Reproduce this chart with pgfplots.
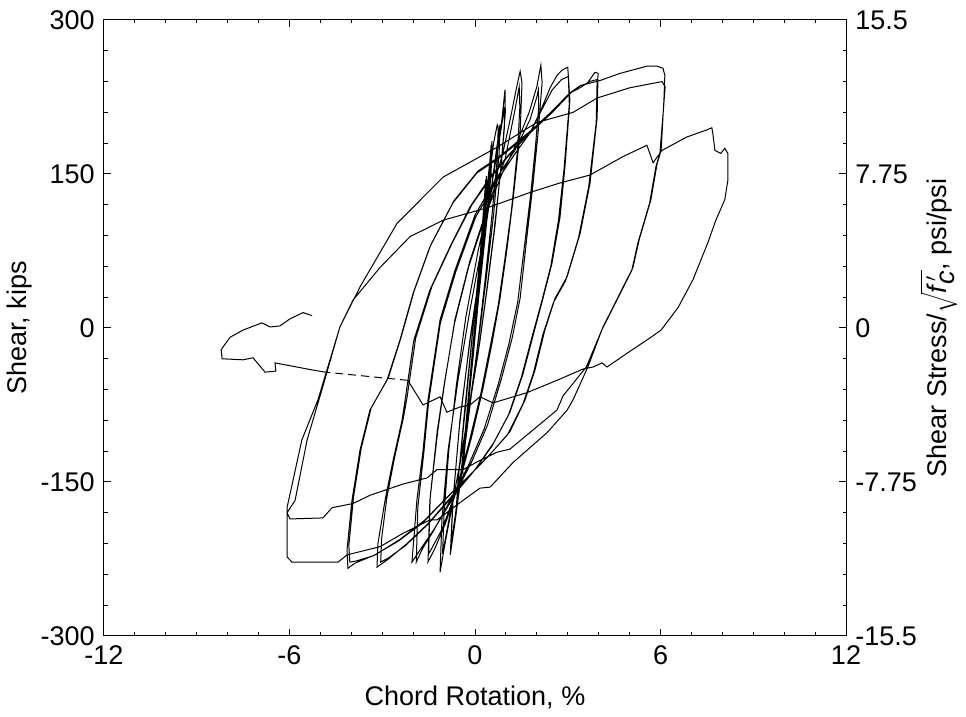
\documentclass[border=0pt]{standalone}
\usepackage{fontspec}
\setmainfont{Liberation Sans}
\usepackage{pgfplots}
\pgfplotsset{compat=1.18}
\begin{document}
\fontsize{13.5}{16}\selectfont
\begin{tikzpicture}
\pgfplotsset{
  common/.style={
    scale only axis, width=371pt, height=308pt,
    xmin=-12, xmax=12,
    tick align=inside,
    major tick length=3.5pt, minor tick length=1.75pt,
    axis line style={line width=0.5pt},
    every tick/.style={black, line width=0.5pt},
    tick label style={font=\fontsize{13.5}{16}\selectfont},
    label style={font=\fontsize{13.5}{16}\selectfont},
  }
}
\begin{axis}[common,
  ymin=-300, ymax=300,
  xtick={-12,-6,0,6,12}, xticklabels={-12,-6,0,6,12},
  ytick={-300,-150,0,150,300}, yticklabels={-300,-150,0,150,300},
  minor x tick num=5, minor y tick num=4,
  xtick pos=both, ytick pos=left,
  every axis x label/.style={at={(axis description cs:0.5,0)}, yshift=-30.5pt, anchor=center},
  every axis y label/.style={at={(axis description cs:0,0.5)}, xshift=-42pt, rotate=90, anchor=center},
  xlabel={Chord Rotation, \%},
  ylabel={Shear, kips},
]
\coordinate (SW) at (rel axis cs:0,0);
\coordinate (NE) at (rel axis cs:1,1);
\addplot[black, line width=0.5pt] coordinates {
(0,0) (0.1,40) (0.2,85) (0.3,125) (0.35,145)
(0.33,120) (0.2,70) (0.05,20) (-0.1,-35) (-0.25,-90) (-0.38,-135) (-0.4,-142)
(-0.35,-115) (-0.2,-65) (-0.05,-15) (0.1,35) (0.25,95) (0.36,140) (0.37,148)
(0.33,118) (0.18,65) (0.02,12) (-0.15,-45) (-0.3,-100) (-0.4,-140)
(-0.35,-112) (-0.15,-45) (0.05,18) (0.25,85) (0.42,140) (0.5,170) (0.52,178)
(0.5,150) (0.35,100) (0.15,40) (-0.05,-25) (-0.25,-85) (-0.45,-140) (-0.58,-172) (-0.6,-178)
(-0.52,-140) (-0.3,-75) (-0.08,-5) (0.15,65) (0.35,125) (0.5,168) (0.55,182)
(0.52,150) (0.35,95) (0.12,30) (-0.1,-40) (-0.3,-100) (-0.5,-155) (-0.62,-182)
(-0.55,-150) (-0.35,-85) (-0.1,-10) (0.15,60) (0.4,130) (0.6,180) (0.72,198) (0.75,196)
(0.72,165) (0.55,110) (0.32,45) (0.08,-18) (-0.2,-85) (-0.45,-145) (-0.65,-190) (-0.8,-221)
(-0.72,-170) (-0.5,-95) (-0.18,-15) (0.15,55) (0.48,125) (0.7,175) (0.81,198)
(0.78,170) (0.6,110) (0.35,45) (0.1,-15) (-0.2,-80) (-0.45,-140) (-0.65,-185) (-0.78,-212)
(-0.71,-168) (-0.49,-90) (-0.16,-12) (0.16,56) (0.45,120) (0.7,170) (0.87,203) (0.97,232)
(0.98,210) (0.85,160) (0.65,100) (0.4,40) (0.15,-15) (-0.15,-70) (-0.45,-125) (-0.75,-175) (-1.0,-215) (-1.13,-238)
(-1.07,-187) (-0.87,-119) (-0.55,-51) (-0.16,18) (0.26,86) (0.6,150) (0.85,195) (0.95,215)
(0.95,195) (0.82,150) (0.6,90) (0.35,30) (0.1,-25) (-0.2,-80) (-0.5,-135) (-0.8,-180) (-1.05,-220)
(-1.0,-180) (-0.85,-120) (-0.6,-55) (-0.3,10) (0.1,75) (0.5,130) (0.9,170) (1.15,205) (1.35,235) (1.46,250)
(1.52,239) (1.46,190) (1.23,125) (1.03,76) (0.81,29) (0.55,-15) (0.25,-60) (-0.1,-105) (-0.5,-150) (-0.95,-190) (-1.3,-215) (-1.52,-228)
(-1.46,-168) (-1.2,-99) (-0.97,-51) (-0.65,8) (-0.16,66) (0.49,125) (0.97,164) (1.29,212) (1.43,235)
(1.45,215) (1.38,175) (1.18,115) (0.97,68) (0.75,22) (0.48,-20) (0.18,-65) (-0.18,-110) (-0.6,-158) (-1.05,-195) (-1.35,-212) (-1.5,-220)
(-1.45,-165) (-1.22,-100) (-0.98,-52) (-0.66,5) (-0.2,60) (0.4,115) (0.9,152) (1.35,180) (1.75,210) (2.0,235) (2.13,256)
(2.17,239) (2.04,190) (1.88,141) (1.68,89) (1.46,29) (1.2,-10) (0.85,-50) (0.4,-95) (-0.1,-130) (-0.7,-165) (-1.3,-195) (-1.75,-215) (-2.04,-228)
(-1.88,-168) (-1.68,-119) (-1.52,-70) (-1.13,8) (-0.65,56) (0,110) (0.65,144) (1.29,173) (1.78,203) (2.0,225) (2.05,232)
(2.06,215) (1.95,175) (1.8,130) (1.6,80) (1.38,25) (1.1,-15) (0.75,-55) (0.3,-98) (-0.2,-133) (-0.8,-168) (-1.35,-198) (-1.7,-215) (-1.9,-228)
(-1.85,-175) (-1.65,-120) (-1.5,-72) (-1.12,5) (-0.62,55) (0.02,108) (0.68,142) (1.3,170) (1.78,190) (2.1,210) (2.43,234) (2.65,246) (2.81,251) (3.0,254)
(3.07,222) (2.91,157) (2.75,108) (2.49,63) (2.2,29) (1.9,-5) (1.55,-45) (1.13,-82) (0.6,-112) (0.0,-138) (-0.7,-162) (-1.5,-190) (-2.2,-210) (-2.8,-225) (-3.17,-233)
(-3.14,-210) (-2.91,-168) (-2.65,-129) (-2.36,-90) (-2.26,-70) (-1.98,-12) (-1.46,37) (-0.81,79) (-0.16,118) (0.49,147) (1.13,170) (1.78,190) (2.15,212) (2.5,232) (2.8,242) (3.02,245)
(3.05,218) (2.88,155) (2.7,105) (2.45,60) (2.15,25) (1.85,-8) (1.5,-48) (1.08,-85) (0.55,-115) (-0.05,-140) (-0.75,-165) (-1.55,-192) (-2.25,-212) (-2.8,-224) (-3.05,-228)
(-3.02,-205) (-2.85,-165) (-2.6,-126) (-2.32,-88) (-2.2,-68) (-1.92,-10) (-1.4,40) (-0.75,82) (-0.1,120) (0.55,148) (1.2,172) (1.85,192) (2.5,210) (3.1,229) (3.4,236) (3.62,238) (3.88,249) (3.98,248)
(3.95,205) (3.72,141) (3.4,92) (2.98,50) (2.59,29) (2.26,-2) (1.94,-41) (1.62,-70) (1.13,-101) (0.49,-123) (-0.16,-143) (-0.81,-162) (-1.62,-187) (-2.43,-206) (-3.23,-221) (-3.88,-229) (-4.11,-234)
(-4.14,-216) (-3.98,-168) (-3.72,-119) (-3.4,-80) (-2.85,-51) (-2.43,-12) (-2.0,34) (-1.46,79) (-0.71,122) (0.06,151) (0.71,164) (1.78,190) (2.43,208) (3.07,229) (3.4,234) (3.7,240) (3.95,242)
(3.92,200) (3.68,138) (3.35,88) (2.93,46) (2.54,25) (2.2,-6) (1.88,-45) (1.55,-74) (1.05,-104) (0.4,-126) (-0.25,-146) (-0.9,-165) (-1.7,-190) (-2.5,-208) (-3.3,-222) (-3.85,-227) (-4.05,-228)
(-4.08,-212) (-3.93,-165) (-3.68,-117) (-3.36,-78) (-2.8,-48) (-2.4,-10) (-1.97,36) (-1.43,81) (-0.68,124) (0.1,153) (0.75,166) (1.8,192) (2.45,210) (3.07,229) (3.4,236) (4.04,241) (4.69,248) (5.56,255) (5.89,255) (6.08,253)
(6.14,246) (6.11,222) (6.02,173) (5.89,160) (5.69,125) (5.31,86) (5.11,59) (4.46,20) (4.14,1) (3.65,-38) (3.17,-70) (2.98,-80) (2.33,-102) (1.23,-131) (0.49,-155) (0.16,-156) (-0.39,-168) (-1.23,-187) (-1.46,-187) (-2.33,-200) (-3.07,-213) (-4.14,-221) (-4.43,-228) (-5.66,-228) (-5.92,-228) (-6.08,-223)
(-6.08,-175) (-5.6,-109) (-5.08,-70) (-4.37,1) (-3.72,40) (-2.52,102) (-1.03,147) (0.71,176) (1.99,200) (3.17,210) (3.95,224) (5.01,234) (6.05,240) (6.15,235)
(6.1,215) (5.98,170) (5.85,157) (5.65,122) (5.27,83) (5.07,56) (4.42,17) (4.1,-2) (3.6,-38) (2.85,-66) (2.65,-80) (2.01,-96) (1.13,-118) (0.71,-121) (0.16,-129) (-0.39,-138) (-1.23,-138) (-1.55,-146) (-2.33,-152) (-3.4,-163) (-3.95,-171) (-4.62,-175) (-4.92,-185) (-5.98,-186) (-6.08,-180)
(-5.82,-168) (-5.43,-109) (-4.95,-60) (-4.37,1) (-3.95,27) (-3.07,59) (-2.1,89) (-1.03,105) (0.39,117) (1.78,132) (2.72,141) (3.72,149) (4.79,167) (5.56,178) (5.76,161) (6.05,173) (6.85,186) (7.5,193) (7.66,195)
(7.69,190) (7.76,173) (7.95,170) (8.08,175) (8.18,170) (8.18,144) (8.08,125) (7.79,105) (7.53,83) (7.05,47) (6.57,20) (6.02,-2) (5.69,-9) (4.95,-24) (4.27,-38) (4.11,-34) (3.82,-38) (3.49,-40) (2.65,-51) (1.68,-63) (0.58,-73) (0.16,-67) (-0.16,-75) (-0.49,-77) (-0.91,-82) (-1.13,-67) (-1.68,-75) (-2.17,-51)
};
\addplot[black, line width=0.5pt, dash pattern=on 4pt off 2.5pt] coordinates {
(-2.17,-51) (-4.85,-43)
};
\addplot[black, line width=0.5pt] coordinates {
(-4.85,-43) (-5.24,-41) (-6.47,-34) (-6.44,-42) (-6.79,-43) (-7.18,-29) (-7.5,-31) (-8.18,-30) (-8.21,-21) (-7.92,-9) (-7.5,-2) (-6.89,5) (-6.63,1) (-6.31,2) (-5.98,9) (-5.56,15) (-5.27,12)
};
\end{axis}
\begin{axis}[common,
  ymin=-15.5, ymax=15.5,
  axis x line=none, axis y line*=right,
  ytick={-15.5,-7.75,0,7.75,15.5}, yticklabels={-15.5,-7.75,0,7.75,15.5},
  minor y tick num=4,
  every axis y label/.style={at={(axis description cs:1,0.5)}, xshift=46.5pt, rotate=90, anchor=center},
  ylabel={Shear Stress/$\sqrt{\textit{f}\,'_{\!\textit{c}}}$, psi/psi},
]
\end{axis}
\pgfresetboundingbox
\path[use as bounding box] ([shift={(-52pt,-40.5pt)}]SW) rectangle ([shift={(60pt,10pt)}]NE);
\end{tikzpicture}
\end{document}
